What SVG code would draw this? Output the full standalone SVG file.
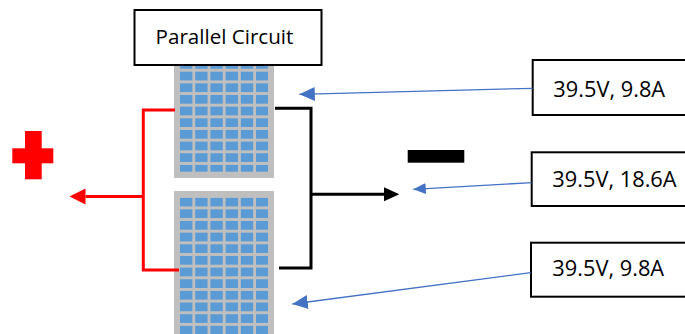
<svg xmlns="http://www.w3.org/2000/svg" width="685" height="334" viewBox="0 0 685 334">
<style>
.box{fill:#fff;stroke:#000;stroke-width:2}
.lbl{font-family:"Open Sans","Liberation Sans",sans-serif;font-size:21.8px;fill:#000}
.ttl{font-family:"Open Sans","Liberation Sans",sans-serif;font-size:20.6px;fill:#000}
.panel{fill:#bfbfbf}
.blue{fill:none;stroke:#4472c4;stroke-width:1.3}
.red{fill:none;stroke:#ff0000;stroke-width:3}
.black{fill:none;stroke:#000;stroke-width:3}
</style>
<defs>
<pattern id="cells" patternUnits="userSpaceOnUse" x="0" y="0" width="15.2" height="11.65">
<rect x="0" y="0" width="12.4" height="8.7" fill="#5b9bd5"/>
</pattern>
<marker id="ahBlue" markerUnits="userSpaceOnUse" viewBox="0 -8 16 16" refX="15.5" refY="0" markerWidth="16" markerHeight="16" orient="auto">
<path d="M0,-7 L15.5,0 L0,7 Z" fill="#4472c4"/>
</marker>
<marker id="ahBlueS" markerUnits="userSpaceOnUse" viewBox="0 -7 13 14" refX="12.5" refY="0" markerWidth="13" markerHeight="14" orient="auto">
<path d="M0,-5.5 L12.5,0 L0,5.5 Z" fill="#4472c4"/>
</marker>
<marker id="ahRed" markerUnits="userSpaceOnUse" viewBox="0 -9 17 18" refX="0" refY="0" markerWidth="17" markerHeight="18" orient="auto">
<path d="M0,-8 L16,0 L0,8 Z" fill="#ff0000"/>
</marker>
<marker id="ahBlack" markerUnits="userSpaceOnUse" viewBox="0 -8 16 16" refX="0" refY="0" markerWidth="16" markerHeight="16" orient="auto">
<path d="M0,-7 L15.3,0 L0,7 Z" fill="#000"/>
</marker>
</defs>

<g id="panel-top">
<rect class="panel" x="174" y="45" width="100" height="133"/>
<rect x="0" y="0" width="88" height="111.65" fill="url(#cells)" transform="translate(180,60.05)"/>
</g>
<g id="panel-bottom">
<rect class="panel" x="174" y="191" width="100" height="150"/>
<rect x="0" y="0" width="88" height="140" fill="url(#cells)" transform="translate(180,197.7)"/>
</g>

<g id="title">
<rect class="box" x="134.5" y="10" width="187" height="55"/>
<text class="ttl" x="224.5" y="44.3" text-anchor="middle">Parallel Circuit</text>
</g>

<g id="plus-sign">
<rect x="25" y="131" width="16.7" height="48.3" fill="#ff0000"/>
<rect x="12.3" y="148.3" width="41" height="15" fill="#ff0000"/>
</g>
<g id="minus-sign">
<rect x="407.7" y="150" width="56.6" height="12.7" fill="#000"/>
</g>

<g id="label-1">
<rect class="box" x="532.7" y="60" width="160" height="55"/>
<text class="lbl" x="553.3" y="96.7">39.5V, 9.8A</text>
</g>
<g id="label-2">
<rect class="box" x="531.7" y="152.3" width="160" height="53.7"/>
<text class="lbl" x="552.3" y="186.7">39.5V, 18.6A</text>
</g>
<g id="label-3">
<rect class="box" x="531" y="242.7" width="160" height="54"/>
<text class="lbl" x="552.3" y="276">39.5V, 9.8A</text>
</g>

<g id="connectors">
<path class="red" d="M175,110 H143.3 V270 H179"/>
<path class="red" d="M143.3,196.5 H85.5" marker-end="url(#ahRed)"/>
<path class="black" d="M275,108.3 H311 V268 H279"/>
<path class="black" d="M311,194.3 H384" marker-end="url(#ahBlack)"/>
<path class="blue" d="M532.7,88.3 L299.3,94.3" marker-end="url(#ahBlue)"/>
<path class="blue" d="M531.7,182.7 L413.3,189.3" marker-end="url(#ahBlueS)"/>
<path class="blue" d="M530.7,272.7 L292.3,304" marker-end="url(#ahBlue)"/>
</g>
</svg>
